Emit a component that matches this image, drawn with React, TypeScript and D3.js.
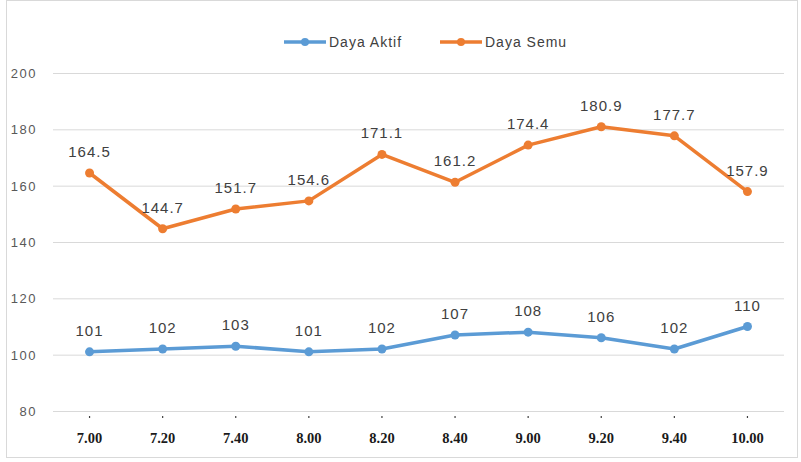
import React, { useEffect, useRef } from 'react'
import * as d3 from 'd3'

const times = ['7.00', '7.20', '7.40', '8.00', '8.20', '8.40', '9.00', '9.20', '9.40', '10.00']
const dayaAktif = [101, 102, 103, 101, 102, 107, 108, 106, 102, 110]
const dayaSemu = [164.5, 144.7, 151.7, 154.6, 171.1, 161.2, 174.4, 180.9, 177.7, 157.9]
const yTicks = [80, 100, 120, 140, 160, 180, 200]

const series = [
  { name: 'Daya Aktif', values: dayaAktif, color: '#5B9BD5', fmt: (v: number) => String(v) },
  { name: 'Daya Semu', values: dayaSemu, color: '#ED7D31', fmt: (v: number) => v.toFixed(1) },
]

const W = 801
const H = 462
const sans = 'Liberation Sans, Arial, sans-serif'

export default function App() {
  const ref = useRef<SVGSVGElement>(null)

  useEffect(() => {
    const svg = d3.select(ref.current)
    svg.selectAll('*').remove()

    const left = 53, right = 784, top = 73, bottom = 411
    const x = d3.scalePoint<string>().domain(times).range([left, right]).padding(0.5)
    const y = d3.scaleLinear().domain([80, 200]).range([bottom, top])

    // outer frame
    svg.append('rect')
      .attr('x', 6.5).attr('y', 0.5).attr('width', 791).attr('height', 457)
      .attr('fill', '#fff').attr('stroke', '#d9d9d9')

    // gridlines + y labels
    const grid = svg.append('g')
    grid.selectAll('line').data(yTicks).enter().append('line')
      .attr('x1', left).attr('x2', right)
      .attr('y1', d => y(d) + 0.5).attr('y2', d => y(d) + 0.5)
      .attr('stroke', '#d9d9d9').attr('stroke-width', 1)
    grid.selectAll('text').data(yTicks).enter().append('text')
      .attr('x', 37).attr('y', d => y(d) + 5)
      .attr('text-anchor', 'end')
      .attr('font-family', sans).attr('letter-spacing', 1.5)
      .attr('font-size', 13).attr('fill', '#595959')
      .text(d => d)

    // x axis: small tick dots and bold serif labels
    const xa = svg.append('g')
    xa.selectAll('line').data(times).enter().append('line')
      .attr('x1', d => x(d)!).attr('x2', d => x(d)!)
      .attr('y1', 416).attr('y2', 418)
      .attr('stroke', '#404040').attr('stroke-width', 1.2)
    xa.selectAll('text').data(times).enter().append('text')
      .attr('x', d => x(d)!).attr('y', 443)
      .attr('text-anchor', 'middle')
      .attr('font-family', 'Liberation Serif, Times New Roman, serif')
      .attr('font-weight', 'bold').attr('font-size', 14.5).attr('fill', '#1a1a1a')
      .text(d => d)

    const line = d3.line<number>().x((_, i) => x(times[i])!).y(d => y(d))

    series.forEach(s => {
      const g = svg.append('g')
      g.append('path').datum(s.values)
        .attr('d', line).attr('fill', 'none')
        .attr('stroke', s.color).attr('stroke-width', 3.5)
        .attr('stroke-linejoin', 'round')
      g.selectAll('circle').data(s.values).enter().append('circle')
        .attr('cx', (_, i) => x(times[i])!).attr('cy', d => y(d))
        .attr('r', 4.5).attr('fill', s.color)
      g.selectAll('text').data(s.values).enter().append('text')
        .attr('x', (_, i) => x(times[i])!).attr('y', d => y(d) - 16)
        .attr('text-anchor', 'middle')
        .attr('font-family', sans).attr('letter-spacing', 1)
        .attr('font-size', 15).attr('fill', '#404040')
        .text(d => s.fmt(d))
    })

    // legend
    const legendX = [284, 440]
    series.forEach((s, i) => {
      const lg = svg.append('g').attr('transform', `translate(${legendX[i]},42)`)
      lg.append('line').attr('x1', 0).attr('x2', 42).attr('y1', 0).attr('y2', 0)
        .attr('stroke', s.color).attr('stroke-width', 3.5)
      lg.append('circle').attr('cx', 21).attr('cy', 0).attr('r', 4).attr('fill', s.color)
      lg.append('text').attr('x', 45).attr('y', 5)
        .attr('font-family', sans).attr('letter-spacing', 1)
        .attr('font-size', 14).attr('fill', '#404040')
        .text(s.name)
    })
  }, [])

  return (
    <svg ref={ref} width={W} height={H}
      style={{ position: 'absolute', left: 0, top: 0, display: 'block' }} />
  )
}
